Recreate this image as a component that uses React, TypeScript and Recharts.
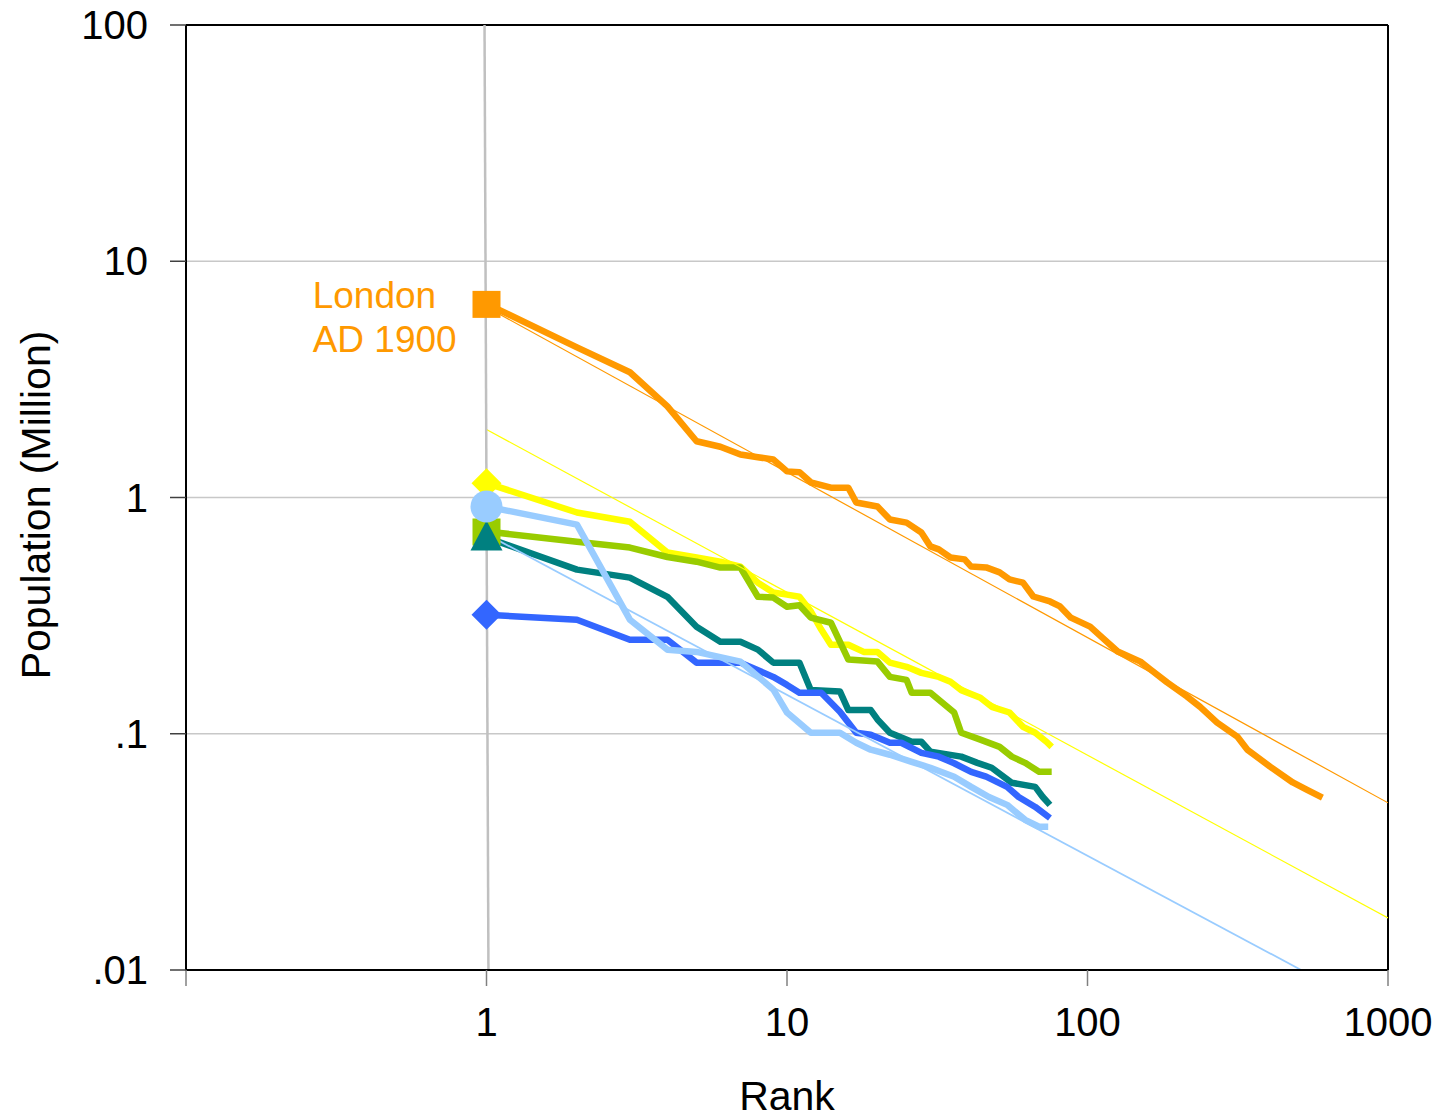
// Rank-size plot of city populations, log-log
import React from 'react';
import { LineChart, Line, XAxis, YAxis, CartesianGrid, ReferenceLine, ReferenceDot } from 'recharts';

const xTicks = [0.1, 1, 10, 100, 1000];
const yTicks = [0.01, 0.1, 1, 10, 100];
const yTickLabels: Record<string, string> = { '0.01': '.01', '0.1': '.1', '1': '1', '10': '10', '100': '100' };

// London AD 1900 (orange)
const londonRanks = [1, 2, 3, 4, 5, 6, 7, 8, 9, 10, 11, 12, 14, 16, 17, 20, 22, 25, 28, 30, 32, 35, 39, 41, 46, 51, 55, 61, 66, 75, 81, 88, 102, 112, 126, 150, 162, 184, 214, 237, 270, 315, 340, 405, 482, 536, 605];
const londonPop = [6.6, 4.32, 3.39, 2.43, 1.73, 1.64, 1.52, 1.48, 1.45, 1.29, 1.28, 1.16, 1.1, 1.1, 0.952, 0.916, 0.807, 0.783, 0.711, 0.621, 0.603, 0.557, 0.547, 0.51, 0.506, 0.482, 0.45, 0.436, 0.381, 0.363, 0.346, 0.31, 0.284, 0.255, 0.223, 0.202, 0.187, 0.165, 0.144, 0.13, 0.1115, 0.0973, 0.0857, 0.0726, 0.0622, 0.058, 0.0537];

// yellow
const yellowRanks = [1, 2, 3, 4, 5, 6, 7, 8, 9, 10, 11, 12, 13, 14, 16, 18, 20, 22, 25, 28, 32, 35, 38, 44, 48, 55, 61, 67, 73, 76];
const yellowPop = [1.15, 0.864, 0.79, 0.585, 0.557, 0.535, 0.51, 0.436, 0.396, 0.388, 0.38, 0.33, 0.276, 0.238, 0.238, 0.222, 0.222, 0.2, 0.192, 0.181, 0.174, 0.166, 0.153, 0.142, 0.13, 0.123, 0.107, 0.101, 0.0925, 0.088];

// yellow-green
const greenRanks = [1, 2, 3, 4, 5, 6, 7, 8, 9, 10, 11, 12, 14, 16, 20, 22, 25, 26, 30, 36, 38, 44, 51, 56, 62, 69, 76];
const greenPop = [0.718, 0.65, 0.614, 0.56, 0.535, 0.505, 0.505, 0.38, 0.377, 0.345, 0.35, 0.31, 0.295, 0.206, 0.202, 0.174, 0.169, 0.149, 0.149, 0.123, 0.101, 0.0944, 0.088, 0.08, 0.0753, 0.069, 0.069];

// teal
const tealRanks = [1, 2, 3, 4, 5, 6, 7, 8, 9, 11, 12, 15, 16, 19, 20, 22, 26, 28, 30, 38, 43, 48, 56, 67, 71, 75];
const tealPop = [0.677, 0.495, 0.458, 0.38, 0.284, 0.245, 0.245, 0.227, 0.2, 0.2, 0.153, 0.151, 0.126, 0.126, 0.115, 0.101, 0.0925, 0.0925, 0.084, 0.08, 0.0753, 0.0718, 0.062, 0.0596, 0.054, 0.05];

// blue
const blueRanks = [1, 2, 3, 4, 5, 7, 9, 10, 11, 13, 15, 17, 19, 22, 24, 28, 32, 36, 41, 46, 54, 59, 67, 75];
const bluePop = [0.319, 0.304, 0.25, 0.25, 0.2, 0.2, 0.174, 0.161, 0.149, 0.149, 0.124, 0.101, 0.099, 0.0916, 0.0916, 0.083, 0.08, 0.075, 0.069, 0.0658, 0.0596, 0.054, 0.049, 0.044];

// light blue
const skyRanks = [1, 2, 3, 4, 5, 7, 9, 10, 12, 15, 17, 19, 22, 26, 30, 36, 41, 47, 54, 62, 69, 74];
const skyPop = [0.916, 0.768, 0.304, 0.227, 0.222, 0.202, 0.154, 0.123, 0.101, 0.101, 0.0916, 0.0856, 0.0815, 0.076, 0.0718, 0.0658, 0.0596, 0.054, 0.05, 0.0432, 0.0404, 0.0404];

// fitted power-law trend lines
const londonTrendRanks = [1, 1000];
const londonTrendPop = [6.4, 0.051];
const yellowTrendRanks = [1, 1000];
const yellowTrendPop = [1.94, 0.0166];
const skyTrendRanks = [1, 514];
const skyTrendPop = [0.7, 0.01];

const pts = (r: number[], v: number[]) => r.map((x, i) => ({ r: x, v: v[i] }));

const makeDot = (kind: string, color: string) => (props: any) => {
  const { cx, cy, index } = props;
  if (index !== 0 || cx == null) return <g key={`d-${index}`} />;
  if (kind === 'square') return <rect key="m" x={cx - 14} y={cy - 13} width={28} height={27} fill={color} />;
  if (kind === 'diamond') return <polygon key="m" points={`${cx},${cy - 15} ${cx + 15},${cy} ${cx},${cy + 15} ${cx - 15},${cy}`} fill={color} />;
  if (kind === 'triangle') return <polygon key="m" points={`${cx},${cy - 17} ${cx + 16},${cy + 13} ${cx - 16},${cy + 13}`} fill={color} />;
  return <circle key="m" cx={cx} cy={cy} r={16} fill={color} />;
};

const LondonLabel = (props: any) => {
  const { viewBox } = props;
  if (!viewBox) return null;
  return (
    <text x={viewBox.x} y={viewBox.y} fill="#ff9900" fontSize={37}>
      <tspan x={viewBox.x} dy={0}>London</tspan>
      <tspan x={viewBox.x} dy={44}>AD 1900</tspan>
    </text>
  );
};

const YLabel = () => (
  <text transform="translate(50, 505) rotate(-90)" textAnchor="middle" fontSize={41} fill="#000">
    Population (Million)
  </text>
);

export default function App() {
  const series = [
    { key: 'london', data: pts(londonRanks, londonPop), color: '#ff9900', kind: 'square' },
    { key: 'yellow', data: pts(yellowRanks, yellowPop), color: '#ffff00', kind: 'diamond' },
    { key: 'green', data: pts(greenRanks, greenPop), color: '#99cc00', kind: 'square' },
    { key: 'teal', data: pts(tealRanks, tealPop), color: '#008080', kind: 'triangle' },
    { key: 'blue', data: pts(blueRanks, bluePop), color: '#3366ff', kind: 'diamond' },
    { key: 'sky', data: pts(skyRanks, skyPop), color: '#99ccff', kind: 'circle' },
  ];

  return (
    <div style={{ position: 'absolute', left: 0, top: 0, fontFamily: 'Arial, "Liberation Sans", sans-serif' }}>
      <LineChart width={1434} height={1120} margin={{ top: 25, right: 46, bottom: 0, left: 36 }}>
        <CartesianGrid vertical={false} stroke="#c8c8c8" strokeWidth={1.5} />
        <XAxis
          type="number"
          dataKey="r"
          scale="log"
          domain={[0.1, 1000]}
          allowDataOverflow
          ticks={xTicks}
          tickFormatter={(v: number) => (v < 1 ? '' : String(v))}
          height={150}
          tickSize={16}
          tickMargin={22}
          axisLine={{ stroke: '#000', strokeWidth: 2 }}
          tickLine={{ stroke: '#808080', strokeWidth: 1.5 }}
          tick={{ fill: '#000', fontSize: 40 }}
          label={{ value: 'Rank', position: 'insideBottom', offset: 10, fill: '#000', fontSize: 41 }}
        />
        <YAxis
          type="number"
          dataKey="v"
          scale="log"
          domain={[0.01, 100]}
          allowDataOverflow
          ticks={yTicks}
          tickFormatter={(v: number) => yTickLabels[String(v)] ?? String(v)}
          width={150}
          tickSize={16}
          tickMargin={22}
          axisLine={{ stroke: '#000', strokeWidth: 2 }}
          tickLine={{ stroke: '#404040', strokeWidth: 1.5 }}
          tick={{ fill: '#000', fontSize: 40 }}
          label={<YLabel />}
        />
        <ReferenceLine y={100} stroke="#000" strokeWidth={2} />
        <ReferenceLine x={1000} stroke="#000" strokeWidth={2} />
        {series.map((s) => (
          <Line
            key={s.key}
            data={s.data}
            dataKey="v"
            type="linear"
            stroke={s.color}
            strokeWidth={6.5}
            strokeLinejoin="round"
            dot={makeDot(s.kind, s.color)}
            activeDot={false}
            isAnimationActive={false}
          />
        ))}
        <Line data={pts(londonTrendRanks, londonTrendPop)} dataKey="v" stroke="#ff9900" strokeWidth={1.2} dot={false} activeDot={false} isAnimationActive={false} />
        <Line data={pts(yellowTrendRanks, yellowTrendPop)} dataKey="v" stroke="#ffff00" strokeWidth={1.2} dot={false} activeDot={false} isAnimationActive={false} />
        <Line data={pts(skyTrendRanks, skyTrendPop)} dataKey="v" stroke="#99ccff" strokeWidth={1.8} dot={false} activeDot={false} isAnimationActive={false} />
        <ReferenceLine segment={[{ x: 0.985, y: 100 }, { x: 1.015, y: 0.01 }]} stroke="#c0c0c0" strokeWidth={2.5} />
        <ReferenceDot x={0.264} y={6.31} r={0} fill="none" stroke="none" label={<LondonLabel />} />
      </LineChart>
    </div>
  );
}
